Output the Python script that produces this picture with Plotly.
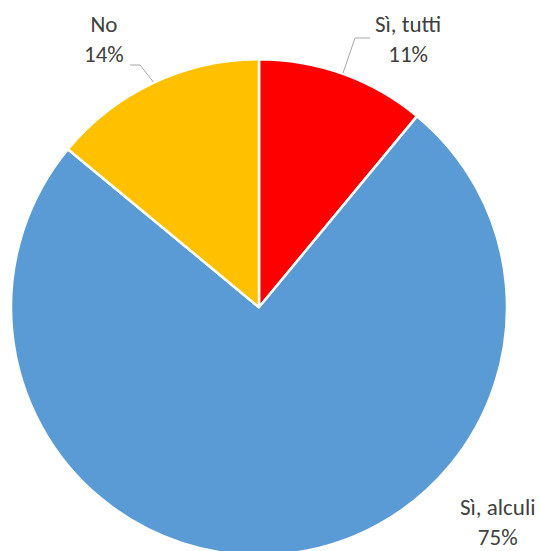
import math
import plotly.graph_objects as go

# Survey answers and their shares (%)
labels = ["Sì, tutti", "Sì, alculi", "No"]
values = [11, 75, 14]
colors = ["#FF0000", "#5B9BD5", "#FFC000"]

W, H = 540, 556
CX, CY, R = 259.0, 306.5, 248.0   # pie centre / radius in pixels

fig = go.Figure(go.Pie(
    labels=labels,
    values=values,
    sort=False,
    direction="clockwise",
    rotation=0,
    textinfo="none",
    hoverinfo="label+percent",
    marker=dict(colors=colors, line=dict(color="white", width=2.5)),
    domain=dict(x=[(CX - R) / W, (CX + R) / W], y=[0, (H - (CY - R)) / H]),
    showlegend=False,
))


def px(x):
    return x / W


def py(y):
    return 1 - y / H


total = sum(values)
# label placement: (text centre x, y, leader elbow and end) in pixels
label_pos = {
    "Sì, tutti": dict(x=408, y=39, elbow=(355, 38), end=(370, 38)),
    "Sì, alculi": dict(x=497, y=522, elbow=None, end=None),
    "No": dict(x=104, y=39, elbow=(140, 65), end=(130, 65)),
}

font = dict(family="Carlito, Calibri, Lato, sans-serif", size=23, color="#404040")

cum = 0
for lab, val in zip(labels, values):
    mid = (cum + val / 2) / total * 2 * math.pi
    cum += val
    pct = round(val / total * 100)
    p = label_pos[lab]
    fig.add_annotation(x=px(p["x"]), y=py(p["y"]), xref="paper", yref="paper",
                       text=f"{lab}<br>{pct}%", showarrow=False, font=font,
                       align="center", xanchor="center", yanchor="middle")
    if p["elbow"]:
        ex = CX + R * math.sin(mid)
        ey = CY - R * math.cos(mid)
        path = (f"M {px(ex)} {py(ey)} L {px(p['elbow'][0])} {py(p['elbow'][1])} "
                f"L {px(p['end'][0])} {py(p['end'][1])}")
        fig.add_shape(type="path", path=path, xref="paper", yref="paper",
                      line=dict(color="#A6A6A6", width=1))

fig.update_layout(
    width=W, height=H,
    margin=dict(l=0, r=0, t=0, b=0),
    paper_bgcolor="white",
    plot_bgcolor="white",
)

fig.write_html("out.html",
               post_script="document.body.style.overflow='hidden';"
                           "document.documentElement.style.overflow='hidden';")
